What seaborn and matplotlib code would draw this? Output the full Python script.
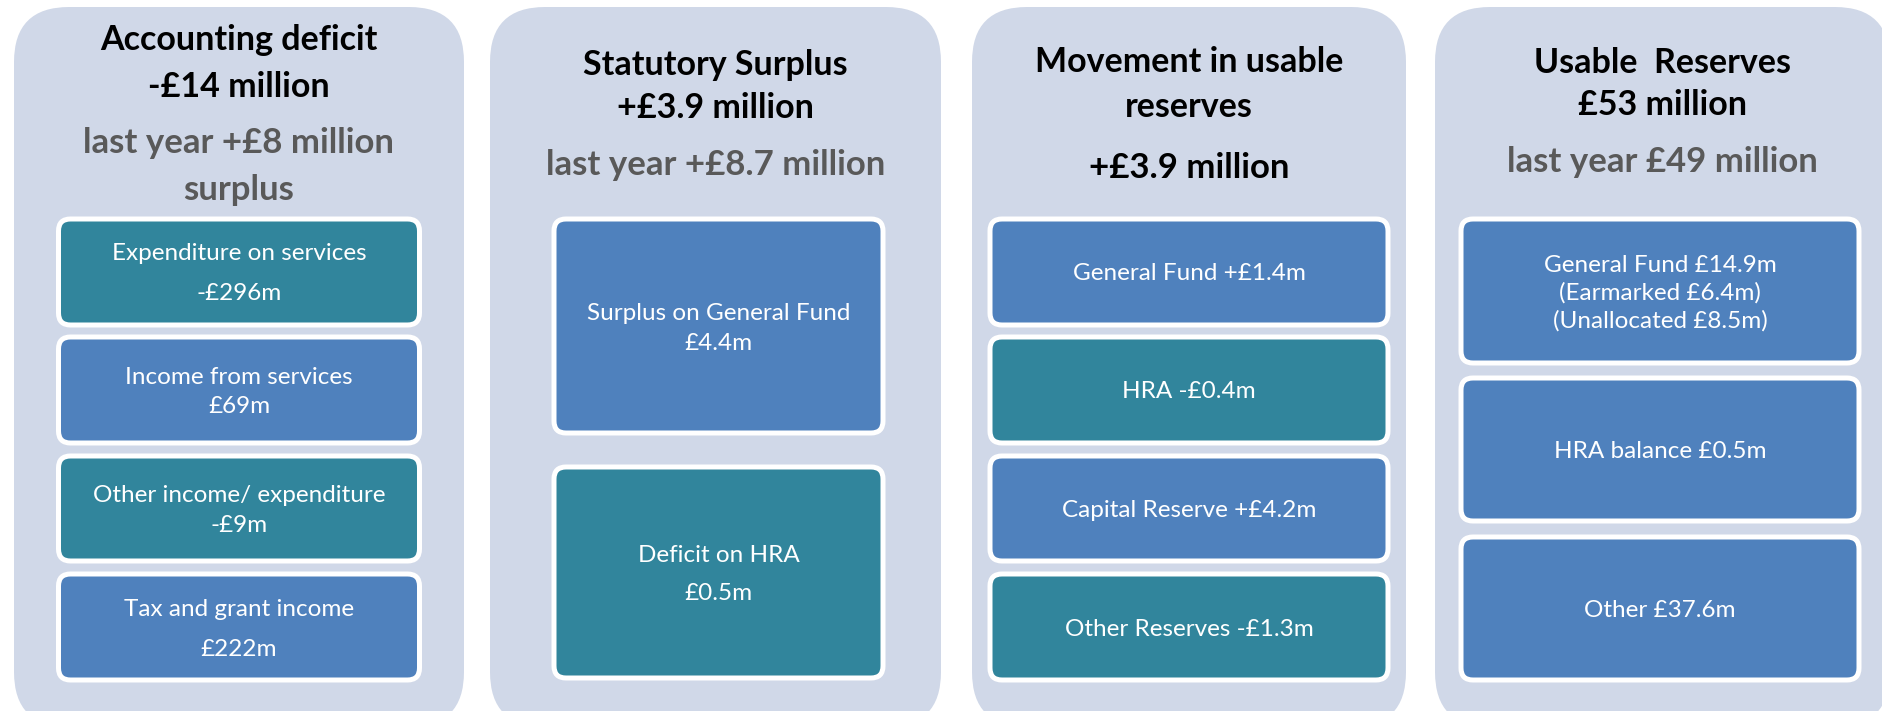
import seaborn as sns
import matplotlib.pyplot as plt
from matplotlib.patches import FancyBboxPatch

# Texto dos cabeçalhos de cada painel
headline = [
    ["Accounting deficit", "-£14 million"],
    ["Statutory Surplus", "+£3.9 million"],
    ["Movement in usable", "reserves"],
    ["Usable  Reserves", "£53 million"],
]
subline = [
    ["last year +£8 million", "surplus"],
    ["last year +£8.7 million"],
    ["+£3.9 million"],
    ["last year £49 million"],
]
subline_dark = [False, False, True, False]

# Caixas internas: rótulo e tipo de cor
box_labels = [
    ["Expenditure on services\n-£296m", "Income from services\n£69m",
     "Other income/ expenditure\n-£9m", "Tax and grant income\n£222m"],
    ["Surplus on General Fund\n£4.4m", "Deficit on HRA\n£0.5m"],
    ["General Fund +£1.4m", "HRA -£0.4m", "Capital Reserve +£4.2m", "Other Reserves -£1.3m"],
    ["General Fund £14.9m\n(Earmarked £6.4m)\n(Unallocated £8.5m)", "HRA balance £0.5m", "Other £37.6m"],
]
box_kind = [
    ["teal", "blue", "teal", "blue"],
    ["blue", "teal"],
    ["blue", "teal", "blue", "teal"],
    ["blue", "blue", "blue"],
]

# Layout em pixels (figura 1883 x 711)
panel_x = [(14, 464), (490, 941), (972, 1406), (1435, 1890)]
head_y = [(40, 87), (65, 108), (62, 107), (63, 105)]
sub_y = [(143, 190), (165,), (168,), (162,)]
box_x = [(58.5, 419.5), (554, 883), (990, 1388), (1461, 1859)]
box_y = [
    [(219, 325), (337, 443), (456, 561), (574, 680)],
    [(219, 433), (467, 678)],
    [(219, 325), (337, 443), (456, 561), (574, 680)],
    [(219, 363), (378, 521), (537, 680)],
]
line_gap = [[40, 29, 30, 40], [30, 39], [0, 0, 0, 0], [28, 0, 0]]

colors = {"blue": "#4F81BD", "teal": "#31859C"}
panel_color = "#D0D8E8"
grey = "#595959"

sns.set_theme(style="white")
plt.rcParams['font.family'] = ['Lato', 'DejaVu Sans']

fig = plt.figure(figsize=(18.83, 7.11), dpi=100)
ax = fig.add_axes([0, 0, 1, 1])
ax.set_xlim(0, 1883)
ax.set_ylim(711, 0)
ax.axis('off')

for p in range(4):
    x0, x1 = panel_x[p]
    ax.add_patch(FancyBboxPatch((x0, 7), x1 - x0, 720, boxstyle="round,pad=0,rounding_size=55",
                                facecolor=panel_color, edgecolor='none'))
    cx = (x0 + x1) / 2
    for txt, y in zip(headline[p], head_y[p]):
        ax.text(cx, y, txt, ha='center', va='center', fontsize=24.5, fontweight='bold', color='black')
    for txt, y in zip(subline[p], sub_y[p]):
        ax.text(cx, y, txt, ha='center', va='center', fontsize=25, fontweight='bold',
                color='black' if subline_dark[p] else grey)

    bx0, bx1 = box_x[p]
    bcx = (bx0 + bx1) / 2
    for i, label in enumerate(box_labels[p]):
        y0, y1 = box_y[p][i]
        ax.add_patch(FancyBboxPatch((bx0, y0), bx1 - bx0, y1 - y0,
                                    boxstyle="round,pad=0,rounding_size=12",
                                    facecolor=colors[box_kind[p][i]], edgecolor='white', linewidth=3.6))
        lines = label.split("\n")
        n = len(lines)
        cy = (y0 + y1) / 2 + 2
        for j, line in enumerate(lines):
            ax.text(bcx, cy + (j - (n - 1) / 2) * line_gap[p][i], line, ha='center', va='center',
                    fontsize=17.5, color='white')

fig.savefig("out.png", dpi=100)
